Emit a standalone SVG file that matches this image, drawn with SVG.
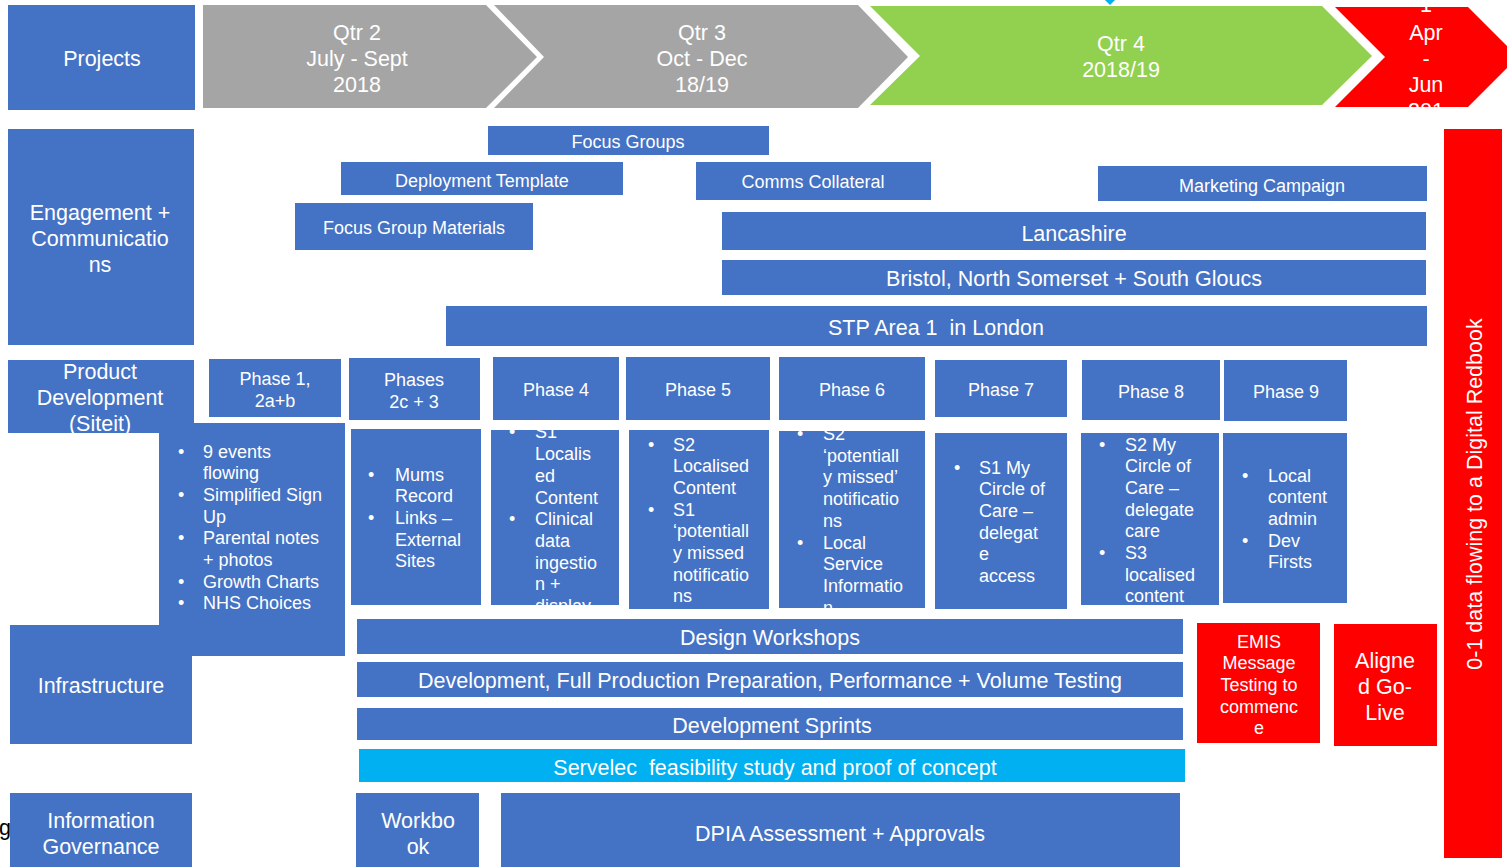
<svg xmlns="http://www.w3.org/2000/svg" width="1507" height="867" viewBox="0 0 1507 867">
<style>
.b{fill:#4472C4}
.r{fill:#FF0000}
.g{fill:#A5A5A5}
.gr{fill:#92D050}
.c{fill:#00B0F0}
text{font-family:"Liberation Sans",Arial,sans-serif;fill:#FFFFFF;white-space:pre}
.L{font-size:21.5px;text-anchor:middle}
.M{font-size:18px;text-anchor:middle}
.S{font-size:18px}
</style>
<rect width="1507" height="867" fill="#FFFFFF"/>
<g id="connectors">
<polygon class="c" points="1105,0 1115,0 1110,5"/>
</g>
<g id="projects"><rect class="b" x="8" y="5" width="187" height="105"/><text class="L" x="102" y="66">Projects</text></g>
<g id="qtr2"><polygon class="g" points="203,5 486,5 537,57 486,108 203,108"/>
<text class="L" x="357" y="40">Qtr 2</text><text class="L" x="357" y="66">July - Sept</text><text class="L" x="357" y="92">2018</text></g>
<g id="qtr3"><polygon class="g" points="494,5 858,5 908,57 858,108 494,108 544,57"/>
<text class="L" x="702" y="40">Qtr 3</text><text class="L" x="702" y="66">Oct - Dec</text><text class="L" x="702" y="92">18/19</text></g>
<g id="qtr4"><polygon class="gr" points="870,6 1322,6 1372,56 1322,105 870,105 920,56"/>
<text class="L" x="1121" y="51">Qtr 4</text><text class="L" x="1121" y="77">2018/19</text></g>
<g id="qtr1"><polygon class="r" points="1335,7 1468,7 1518,57 1468,107 1335,107 1385,57"/>
<text class="L" x="1426" y="12">1</text><text class="L" x="1426" y="40">Apr</text><text class="L" x="1426" y="66">-</text><text class="L" x="1426" y="92">Jun</text><text class="L" x="1426" y="118">201</text></g>

<g id="engagement"><rect class="b" x="8" y="129" width="186" height="216"/>
<text class="L" x="100" y="220">Engagement +</text><text class="L" x="100" y="246">Communicatio</text><text class="L" x="100" y="272">ns</text></g>
<g id="focus-groups"><rect class="b" x="488" y="126" width="281" height="29"/><text class="M" x="628" y="147.5">Focus Groups</text></g>
<g id="deployment-template"><rect class="b" x="341" y="162" width="282" height="33"/><text class="M" x="482" y="186.5">Deployment Template</text></g>
<g id="focus-group-materials"><rect class="b" x="295" y="203" width="238" height="47"/><text class="M" x="414" y="233.5">Focus Group Materials</text></g>
<g id="comms-collateral"><rect class="b" x="696" y="162" width="235" height="38"/><text class="M" x="813" y="187.5">Comms Collateral</text></g>
<g id="marketing-campaign"><rect class="b" x="1098" y="166" width="329" height="35"/><text class="M" x="1262" y="191.5">Marketing Campaign</text></g>
<g id="lancashire"><rect class="b" x="722" y="212" width="704" height="38"/><text class="L" x="1074" y="241">Lancashire</text></g>
<g id="bristol"><rect class="b" x="722" y="260" width="704" height="35"/><text class="L" x="1074" y="286">Bristol, North Somerset + South Gloucs</text></g>
<g id="stp-london"><rect class="b" x="446" y="306" width="981" height="40"/><text class="L" x="936" y="335">STP Area 1  in London</text></g>

<g id="redbook"><rect class="r" x="1444" y="129" width="58" height="729"/>
<text class="L" transform="translate(1482,494) rotate(-90)">0-1 data flowing to a Digital Redbook</text></g>

<g id="product-development"><rect class="b" x="8" y="360" width="186" height="73"/>
<text class="L" x="100" y="379">Product</text><text class="L" x="100" y="405">Development</text><text class="L" x="100" y="431">(Siteit)</text></g>

<g id="phase1"><rect class="b" x="209" y="359" width="132" height="58"/><text class="M" x="275" y="384.5">Phase 1,</text><text class="M" x="275" y="406.5">2a+b</text></g>
<g id="phase1-detail"><rect class="b" x="159" y="423" width="186" height="233"/>
<text class="S" x="178" y="457.5">•</text><text class="S" x="203" y="457.5">9 events</text>
<text class="S" x="203" y="479.2">flowing</text>
<text class="S" x="178" y="500.9">•</text><text class="S" x="203" y="500.9">Simplified Sign</text>
<text class="S" x="203" y="522.6">Up</text>
<text class="S" x="178" y="544.3">•</text><text class="S" x="203" y="544.3">Parental notes</text>
<text class="S" x="203" y="566">+ photos</text>
<text class="S" x="178" y="587.7">•</text><text class="S" x="203" y="587.7">Growth Charts</text>
<text class="S" x="178" y="609.4">•</text><text class="S" x="203" y="609.4">NHS Choices</text></g>

<g id="phases2c3"><rect class="b" x="349" y="358" width="131" height="62"/><text class="M" x="414" y="385.5">Phases</text><text class="M" x="414" y="407.5">2c + 3</text></g>
<g id="phases2c3-detail"><rect class="b" x="351" y="429" width="130" height="176"/>
<text class="S" x="368" y="480.5">•</text><text class="S" x="395" y="480.5">Mums</text>
<text class="S" x="395" y="502.2">Record</text>
<text class="S" x="368" y="523.9">•</text><text class="S" x="395" y="523.9">Links –</text>
<text class="S" x="395" y="545.6">External</text>
<text class="S" x="395" y="567.3">Sites</text></g>

<g id="phase4"><rect class="b" x="493" y="357" width="126" height="63"/><text class="M" x="556" y="395.5">Phase 4</text></g>
<g id="phase4-detail"><rect class="b" x="491" y="430" width="128" height="175"/>
<text class="S" x="509" y="438.4">•</text><text class="S" x="535" y="438.4">S1</text>
<text class="S" x="535" y="460.1">Localis</text>
<text class="S" x="535" y="481.8">ed</text>
<text class="S" x="535" y="503.5">Content</text>
<text class="S" x="509" y="525.2">•</text><text class="S" x="535" y="525.2">Clinical</text>
<text class="S" x="535" y="546.9">data</text>
<text class="S" x="535" y="568.6">ingestio</text>
<text class="S" x="535" y="590.3">n +</text>
<text class="S" x="535" y="612">display</text></g>

<g id="phase5"><rect class="b" x="626" y="357" width="144" height="63"/><text class="M" x="698" y="395.5">Phase 5</text></g>
<g id="phase5-detail"><rect class="b" x="629" y="430" width="140" height="179"/>
<text class="S" x="648" y="450.5">•</text><text class="S" x="673" y="450.5">S2</text>
<text class="S" x="673" y="472.2">Localised</text>
<text class="S" x="673" y="493.9">Content</text>
<text class="S" x="648" y="515.6">•</text><text class="S" x="673" y="515.6">S1</text>
<text class="S" x="673" y="537.3">‘potentiall</text>
<text class="S" x="673" y="559">y missed</text>
<text class="S" x="673" y="580.7">notificatio</text>
<text class="S" x="673" y="602.4">ns</text></g>

<g id="phase6"><rect class="b" x="779" y="357" width="146" height="63"/><text class="M" x="852" y="395.5">Phase 6</text></g>
<g id="phase6-detail"><rect class="b" x="779" y="431" width="146" height="177"/>
<text class="S" x="797" y="440">•</text><text class="S" x="823" y="440">S2</text>
<text class="S" x="823" y="461.7">‘potentiall</text>
<text class="S" x="823" y="483.4">y missed’</text>
<text class="S" x="823" y="505.1">notificatio</text>
<text class="S" x="823" y="526.8">ns</text>
<text class="S" x="797" y="548.5">•</text><text class="S" x="823" y="548.5">Local</text>
<text class="S" x="823" y="570.2">Service</text>
<text class="S" x="823" y="591.9">Informatio</text>
<text class="S" x="823" y="613.6">n</text></g>

<g id="phase7"><rect class="b" x="935" y="360" width="132" height="57"/><text class="M" x="1001" y="395.5">Phase 7</text></g>
<g id="phase7-detail"><rect class="b" x="935" y="433" width="132" height="176"/>
<text class="S" x="954" y="473.5">•</text><text class="S" x="979" y="473.5">S1 My</text>
<text class="S" x="979" y="495.2">Circle of</text>
<text class="S" x="979" y="516.9">Care –</text>
<text class="S" x="979" y="538.6">delegat</text>
<text class="S" x="979" y="560.3">e</text>
<text class="S" x="979" y="582">access</text></g>

<g id="phase8"><rect class="b" x="1082" y="360" width="138" height="60"/><text class="M" x="1151" y="397.5">Phase 8</text></g>
<g id="phase8-detail"><rect class="b" x="1081" y="433" width="138" height="172"/>
<text class="S" x="1099" y="450.5">•</text><text class="S" x="1125" y="450.5">S2 My</text>
<text class="S" x="1125" y="472.2">Circle of</text>
<text class="S" x="1125" y="493.9">Care –</text>
<text class="S" x="1125" y="515.6">delegate</text>
<text class="S" x="1125" y="537.3">care</text>
<text class="S" x="1099" y="559">•</text><text class="S" x="1125" y="559">S3</text>
<text class="S" x="1125" y="580.7">localised</text>
<text class="S" x="1125" y="602.4">content</text></g>

<g id="phase9"><rect class="b" x="1224" y="360" width="123" height="61"/><text class="M" x="1286" y="397.5">Phase 9</text></g>
<g id="phase9-detail"><rect class="b" x="1223" y="433" width="124" height="170"/>
<text class="S" x="1242" y="481.5">•</text><text class="S" x="1268" y="481.5">Local</text>
<text class="S" x="1268" y="503.2">content</text>
<text class="S" x="1268" y="524.9">admin</text>
<text class="S" x="1242" y="546.6">•</text><text class="S" x="1268" y="546.6">Dev</text>
<text class="S" x="1268" y="568.3">Firsts</text></g>

<g id="infrastructure"><rect class="b" x="10" y="625" width="182" height="119"/><text class="L" x="101" y="693">Infrastructure</text></g>
<g id="design-workshops"><rect class="b" x="357" y="619" width="826" height="35"/><text class="L" x="770" y="645">Design Workshops</text></g>
<g id="development-full"><rect class="b" x="357" y="662" width="826" height="35"/><text class="L" x="770" y="688">Development, Full Production Preparation, Performance + Volume Testing</text></g>
<g id="development-sprints"><rect class="b" x="357" y="708" width="826" height="32"/><text class="L" x="772" y="733">Development Sprints</text></g>
<g id="servelec"><rect class="c" x="359" y="749" width="826" height="33"/><text class="L" x="775" y="775">Servelec  feasibility study and proof of concept</text></g>
<g id="emis"><rect class="r" x="1197" y="623" width="123" height="120"/>
<text class="M" x="1259" y="647.5">EMIS</text><text class="M" x="1259" y="669.2">Message</text><text class="M" x="1259" y="690.9">Testing to</text><text class="M" x="1259" y="712.6">commenc</text><text class="M" x="1259" y="734.3">e</text></g>
<g id="aligned-go-live"><rect class="r" x="1334" y="624" width="103" height="122"/>
<text class="L" x="1385" y="668">Aligne</text><text class="L" x="1385" y="694">d Go-</text><text class="L" x="1385" y="720">Live</text></g>

<g id="information-governance"><rect class="b" x="10" y="793" width="182" height="74"/>
<text class="L" x="101" y="828">Information</text><text class="L" x="101" y="854">Governance</text></g>
<g id="workbook"><rect class="b" x="356" y="793" width="123" height="74"/><text class="L" x="418" y="828">Workbo</text><text class="L" x="418" y="854">ok</text></g>
<g id="dpia"><rect class="b" x="501" y="793" width="679" height="74"/><text class="L" x="840" y="841">DPIA Assessment + Approvals</text></g>
<text x="-1" y="835" style="font-size:21.5px;fill:#000000">g</text>
</svg>
